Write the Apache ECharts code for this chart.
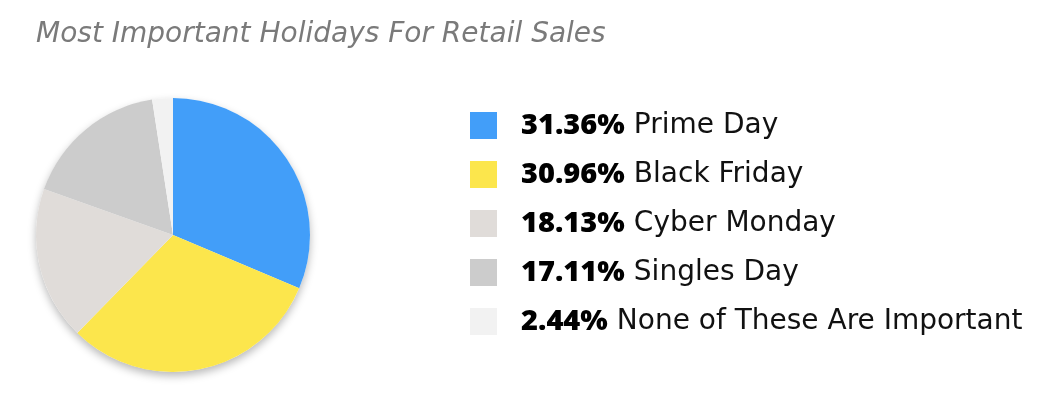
<!DOCTYPE html>
<html>
<head>
<meta charset="utf-8">
<script src="https://cdn.jsdelivr.net/npm/echarts@6/dist/echarts.min.js"></script>
<style>
  html, body { margin: 0; padding: 0; background: #fff; }
  #chart { width: 1054px; height: 406px; }
</style>
</head>
<body>
<div id="chart"></div>
<script>
const categories = ['Prime Day', 'Black Friday', 'Cyber Monday', 'Singles Day', 'None of These Are Important'];
const shares = [31.36, 30.96, 18.13, 17.11, 2.44];
const colors = ['#429ef9', '#fce64c', '#e0dcd9', '#cccccc', '#f2f2f2'];

const chart = echarts.init(document.getElementById('chart'));

const total = shares.reduce((a, b) => a + b, 0);

const option = {
  animation: false,
  title: {
    text: 'Most Important Holidays For Retail Sales',
    left: 31,
    top: 16,
    textStyle: {
      fontFamily: 'DejaVu Sans',
      fontStyle: 'italic',
      fontWeight: 'normal',
      fontSize: 28,
      color: '#7a7a7a'
    }
  },
  legend: {
    orient: 'vertical',
    left: 465,
    top: 106,
    itemWidth: 27,
    itemHeight: 27,
    itemGap: 20,
    icon: 'rect',
    selectedMode: false,
    data: categories,
    formatter: name => {
      const i = categories.indexOf(name);
      return '{b|' + shares[i].toFixed(2) + '%}{n|' + name + '}';
    },
    textStyle: {
      padding: [0, 0, 0, 19],
      rich: {
        b: { fontFamily: 'Open Sans', fontWeight: 800, fontSize: 29, color: '#000' },
        n: { fontFamily: 'DejaVu Sans', fontSize: 28, color: '#111', padding: [0, 0, 0, 9] }
      }
    }
  },
  series: [{
    // backdrop disc that carries the drop shadow
    type: 'pie',
    z: 1,
    silent: true,
    center: [173, 235],
    radius: 137,
    label: { show: false },
    labelLine: { show: false },
    itemStyle: {
      color: '#fff',
      shadowBlur: 8,
      shadowOffsetY: 4,
      shadowColor: 'rgba(0,0,0,0.28)'
    },
    data: [{ name: 'all', value: total }]
  }, {
    type: 'pie',
    z: 2,
    center: [173, 235],
    radius: 137,
    startAngle: 90,
    clockwise: true,
    label: { show: false },
    labelLine: { show: false },
    emphasis: { disabled: true },
    itemStyle: { borderWidth: 0 },
    data: categories.map((c, i) => ({
      name: c,
      value: shares[i],
      itemStyle: { color: colors[i] }
    }))
  }]
};

chart.setOption(option);
</script>
</body>
</html>
